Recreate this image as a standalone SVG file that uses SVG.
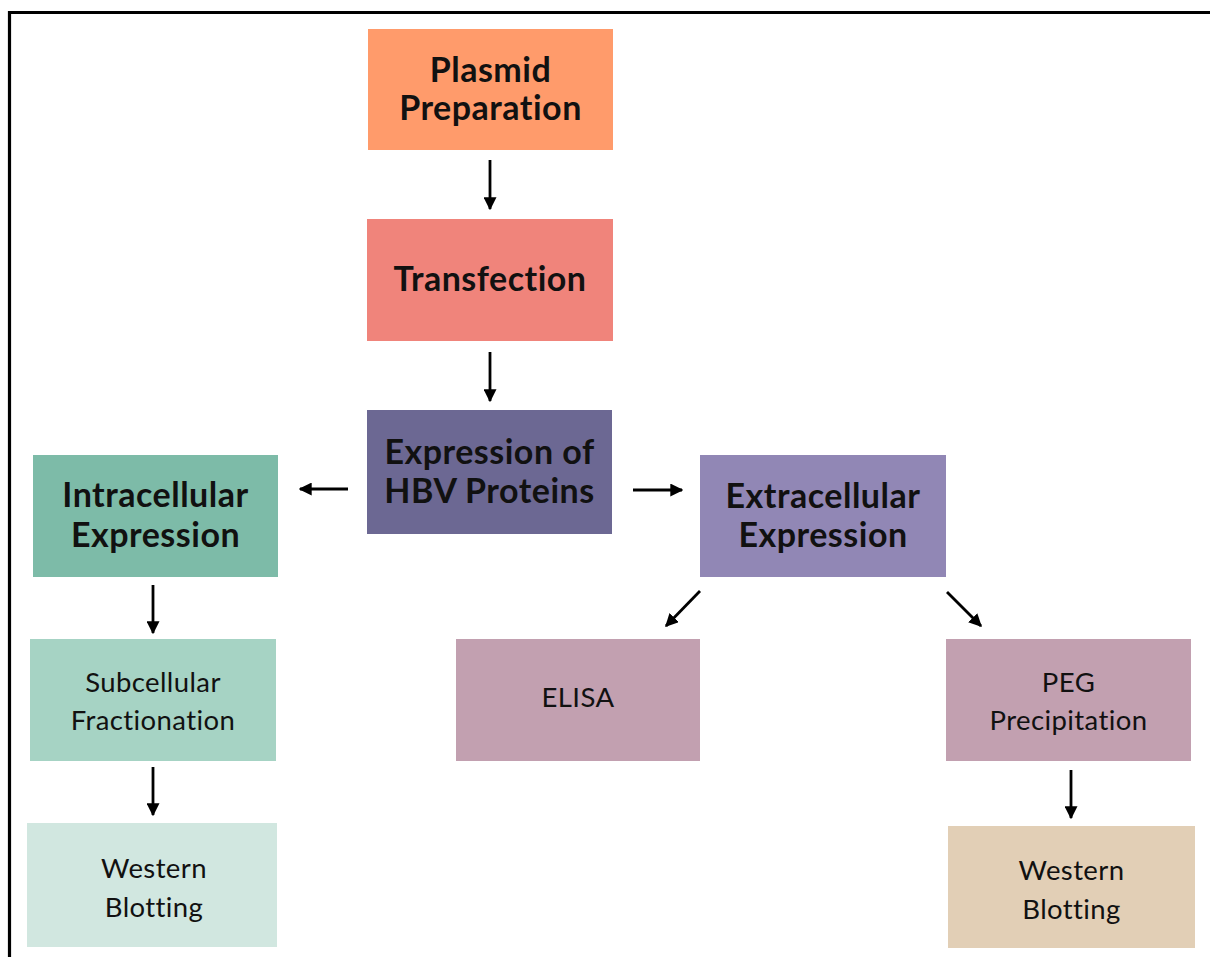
<svg xmlns="http://www.w3.org/2000/svg" width="1210" height="957" viewBox="0 0 1210 957">
  <style>
    text { font-variant-ligatures: none; text-anchor: middle; fill: #111; }
    .hd { font-family: Lato, "Open Sans", "Liberation Sans", sans-serif; font-weight: 700; font-size: 34px; letter-spacing: 0.5px; }
    .tx { font-family: Lato, "Open Sans", "Liberation Sans", sans-serif; font-weight: 400; font-size: 27.5px; letter-spacing: 0.4px; }
    .arrow { stroke: #000; stroke-width: 2.8; fill: none; marker-end: url(#head); }
  </style>
  <defs>
    <marker id="head" viewBox="0 0 10 10" refX="9" refY="5" markerWidth="13" markerHeight="13" markerUnits="userSpaceOnUse" orient="auto">
      <path d="M0,0 L10,5 L0,10 z" fill="#000"/>
    </marker>
  </defs>

  <rect width="1210" height="957" fill="#fff"/>
  <!-- frame (top and left edges) -->
  <path d="M9.5,957 L9.5,12.5 L1210,12.5" fill="none" stroke="#000" stroke-width="3.2"/>

  <g id="plasmid">
    <rect x="368" y="29" width="245" height="121" fill="#FF9B6B"/>
    <text class="hd" x="490.5" y="82">Plasmid</text>
    <text class="hd" x="490.5" y="120">Preparation</text>
  </g>
  <g id="transfection">
    <rect x="367" y="219" width="246" height="122" fill="#F0847B"/>
    <text class="hd" x="490" y="291">Transfection</text>
  </g>
  <g id="expression">
    <rect x="367" y="410" width="245" height="124" fill="#6C6893"/>
    <text class="hd" x="489.5" y="464">Expression of</text>
    <text class="hd" x="489.5" y="503">HBV Proteins</text>
  </g>
  <g id="intracellular">
    <rect x="33" y="455" width="245" height="122" fill="#7DBBA8"/>
    <text class="hd" x="155.5" y="507">Intracellular</text>
    <text class="hd" x="155.5" y="547">Expression</text>
  </g>
  <g id="extracellular">
    <rect x="700" y="455" width="246" height="122" fill="#9187B5"/>
    <text class="hd" x="823" y="508">Extracellular</text>
    <text class="hd" x="823" y="547">Expression</text>
  </g>
  <g id="subcellular">
    <rect x="30" y="639" width="246" height="122" fill="#A6D3C4"/>
    <text class="tx" x="153" y="692">Subcellular</text>
    <text class="tx" x="153" y="730">Fractionation</text>
  </g>
  <g id="elisa">
    <rect x="456" y="639" width="244" height="122" fill="#C2A0B0"/>
    <text class="tx" x="578" y="707">ELISA</text>
  </g>
  <g id="peg">
    <rect x="946" y="639" width="245" height="122" fill="#C2A0B0"/>
    <text class="tx" x="1068.5" y="692">PEG</text>
    <text class="tx" x="1068.5" y="730">Precipitation</text>
  </g>
  <g id="western-left">
    <rect x="27" y="823" width="250" height="124" fill="#D1E7E0"/>
    <text class="tx" x="154" y="878">Western</text>
    <text class="tx" x="154" y="917">Blotting</text>
  </g>
  <g id="western-right">
    <rect x="948" y="826" width="247" height="122" fill="#E2CFB6"/>
    <text class="tx" x="1071.5" y="880">Western</text>
    <text class="tx" x="1071.5" y="919">Blotting</text>
  </g>

  <g id="connectors">
    <line class="arrow" x1="490" y1="160" x2="490" y2="209"/>
    <line class="arrow" x1="490" y1="352" x2="490" y2="401"/>
    <line class="arrow" x1="348" y1="489" x2="300" y2="489"/>
    <line class="arrow" x1="633" y1="490" x2="682" y2="490"/>
    <line class="arrow" x1="153" y1="585" x2="153" y2="633"/>
    <line class="arrow" x1="153" y1="767" x2="153" y2="815"/>
    <line class="arrow" x1="700" y1="591" x2="666" y2="626"/>
    <line class="arrow" x1="947" y1="592" x2="981" y2="626"/>
    <line class="arrow" x1="1071" y1="770" x2="1071" y2="818"/>
  </g>
</svg>
